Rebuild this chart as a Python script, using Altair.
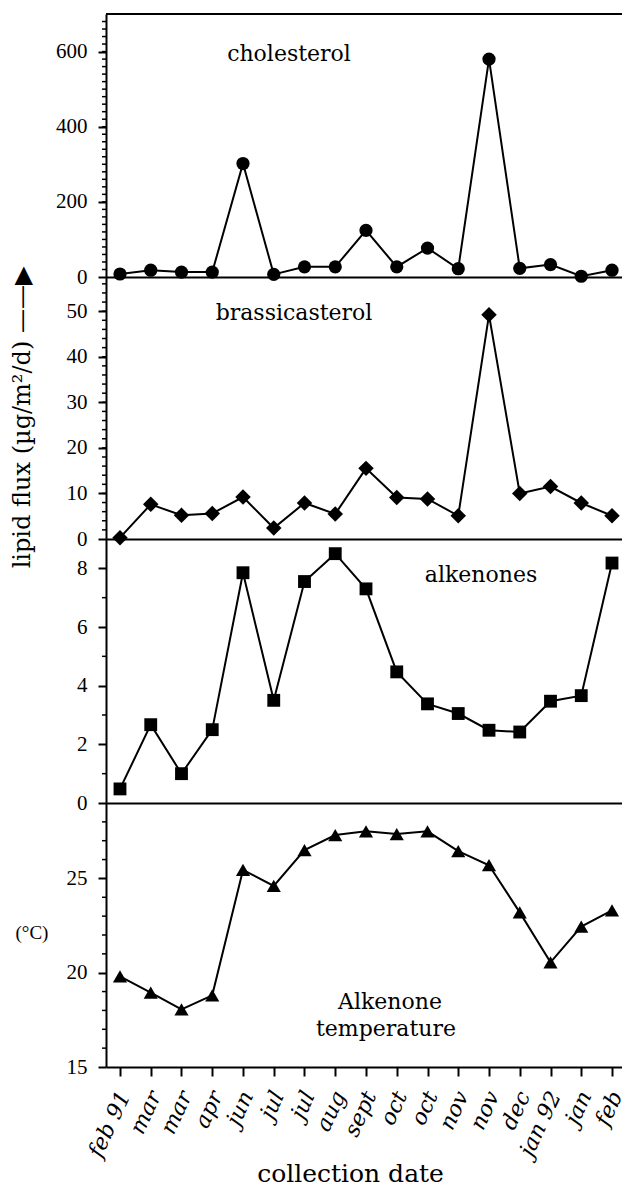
import json
import altair as alt
import pandas as pd

# ---------------- data ----------------
dates = ["feb 91", "mar", "mar", "apr", "jun", "jul", "jul", "aug", "sept",
         "oct", "oct", "nov", "nov", "dec", "jan 92", "jan", "feb"]
cholesterol = [8, 18, 13, 13, 302, 7, 27, 27, 124, 27, 77, 22, 580, 23, 33, 2, 18]
brassicasterol = [0.3, 7.6, 5.2, 5.6, 9.2, 2.4, 7.9, 5.5, 15.5, 9.1, 8.8, 5.1,
                  49.2, 10.0, 11.5, 7.9, 5.1]
alkenones = [0.48, 2.67, 1.0, 2.5, 7.85, 3.5, 7.55, 8.5, 7.3, 4.47, 3.38, 3.05,
             2.48, 2.42, 3.47, 3.66, 8.18]
temperature = [19.8, 18.95, 18.05, 18.8, 25.45, 24.6, 26.5, 27.3, 27.5, 27.35,
               27.5, 26.45, 25.7, 23.2, 20.55, 22.45, 23.3]

annotation_text = ["cholesterol", "brassicasterol", "alkenones", "Alkenone", "temperature"]
flux_title = "lipid flux (µg/m²/d) ——▶"
temp_title = "(°C)"
x_title = "collection date"

chol_major = [0, 200, 400, 600]
chol_minor = list(range(20, 700, 20))
bras_major = [0, 10, 20, 30, 40, 50]
bras_minor = list(range(2, 58, 2))
alk_major = [0, 2, 4, 6, 8]
alk_minor = [1, 3, 5, 7]
temp_major = [15, 20, 25]
temp_minor = [16, 17, 18, 19, 21, 22, 23, 24, 26, 27, 28]

# ---------------- layout / style ----------------
W = 516
XDOM = [-0.455, 16.325]
NUM_FONT = "Liberation Serif"
TXT_FONT = "DejaVu Serif"
label_expr = json.dumps(dates) + "[datum.value]"


def y_axis(major, **extra):
    return alt.Axis(values=major, grid=False, tickSize=8, tickWidth=2,
                    domainWidth=2, labelPadding=11, labelFont=NUM_FONT,
                    labelFontSize=21, labelOverlap=False, labelFlush=False,
                    **extra)


def panel(values, shape, size, ydom, major, minor, height, xaxis, yextra,
          notes, top_border=False):
    df = pd.DataFrame({"i": list(range(len(values))), "v": values})
    x = alt.X("i:Q", scale=alt.Scale(domain=XDOM, nice=False, zero=False), axis=xaxis)
    y = alt.Y("v:Q", scale=alt.Scale(domain=ydom, nice=False, zero=False),
              axis=y_axis(major, **yextra))
    base = alt.Chart(df)
    layers = [
        base.mark_line(color="black", strokeWidth=2).encode(x=x, y=y),
        base.mark_point(shape=shape, filled=True, size=size, color="black",
                        opacity=1).encode(x=x, y=y),
        alt.Chart(pd.DataFrame({"v": minor})).mark_rule(
            color="black", strokeWidth=1.5).encode(
            y=alt.Y("v:Q"), x=alt.value(-4), x2=alt.value(0)),
    ]
    if top_border:
        layers.append(alt.Chart(pd.DataFrame({"v": [ydom[1]]})).mark_rule(
            color="black", strokeWidth=2).encode(
            y=alt.Y("v:Q"), x=alt.value(0), x2=alt.value(W)))
    for txt, px, py in notes:
        layers.append(alt.Chart(pd.DataFrame({"t": [txt]})).mark_text(
            font=TXT_FONT, fontSize=22, align="center", baseline="alphabetic",
            color="black").encode(x=alt.value(px), y=alt.value(py), text="t:N"))
    return alt.layer(*layers).properties(width=W, height=height)


plain_x = alt.Axis(labels=False, ticks=False, title=None, grid=False, domainWidth=2)
bottom_x = alt.Axis(values=list(range(len(dates))), labelExpr=label_expr,
                    labelAngle=295, labelAlign="right", labelBaseline="middle",
                    labelFont=TXT_FONT, labelFontStyle="italic", labelFontSize=22,
                    labelPadding=16, labelOffset=4, labelOverlap=False,
                    labelFlush=False, labelBound=False,
                    tickSize=9, tickWidth=2, domainWidth=2, grid=False,
                    title=x_title, titleFont=TXT_FONT, titleFontSize=25,
                    titleFontWeight="normal", titleX=244, titleY=114,
                    titleAlign="center", titleBaseline="alphabetic")

p1 = panel(cholesterol, "circle", 175, [0, 700], chol_major, chol_minor, 263,
           plain_x, {"title": None},
           [(annotation_text[0], 183, 47)], top_border=True)
p2 = panel(brassicasterol, "diamond", 240, [0, 57.5], bras_major, bras_minor, 262,
           plain_x,
           {"title": flux_title, "titleX": -84, "titleY": 140, "titleAngle": 270,
            "titleAlign": "center", "titleBaseline": "middle",
            "titleFont": TXT_FONT, "titleFontSize": 24, "titleFontWeight": "normal"},
           [(annotation_text[1], 188, 43)])
p3 = panel(alkenones, "square", 165, [0, 9], alk_major, alk_minor, 264,
           plain_x, {"title": None},
           [(annotation_text[2], 375, 43)])
p4 = panel(temperature, "triangle-up", 200, [15, 29], temp_major, temp_minor, 264,
           bottom_x,
           {"title": temp_title, "titleX": -91, "titleY": 129, "titleAngle": 0,
            "titleAlign": "left", "titleBaseline": "middle",
            "titleFont": NUM_FONT, "titleFontSize": 19, "titleFontWeight": "normal"},
           [(annotation_text[3], 284, 206), (annotation_text[4], 280, 233)])

chart = alt.vconcat(p1, p2, p3, p4, spacing=0, bounds="flush").properties(
    padding={"left": 1, "top": 5, "right": -4, "bottom": 2},
    background="white"
).configure_view(stroke=None).configure_axis(
    domainColor="black", tickColor="black", labelColor="black", titleColor="black"
)

chart.save("out.html", embed_options={"renderer": "svg", "actions": False})
